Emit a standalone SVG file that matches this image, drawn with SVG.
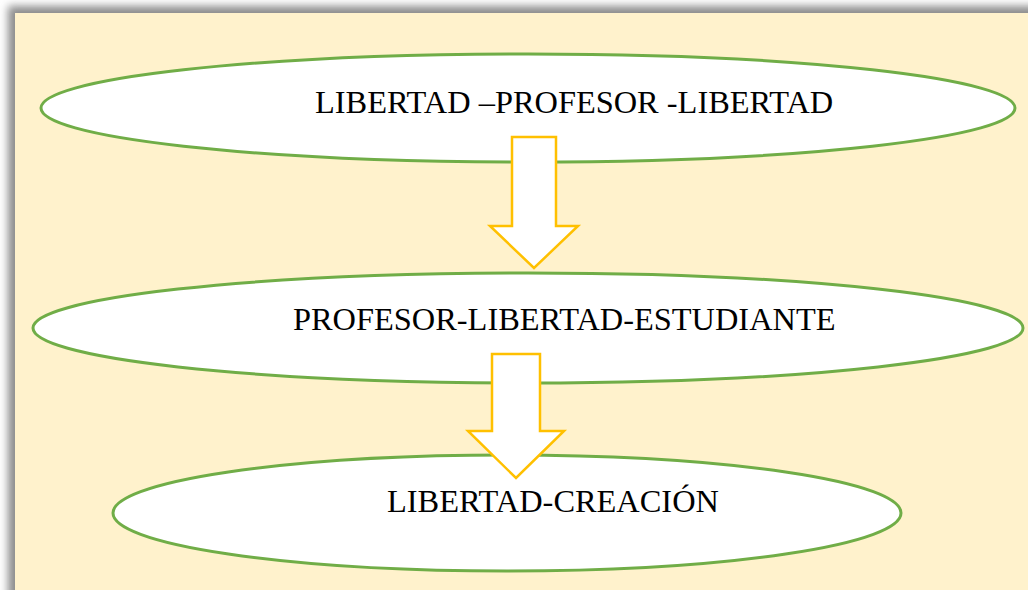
<svg xmlns="http://www.w3.org/2000/svg" width="1028" height="590" viewBox="0 0 1028 590">
  <defs>
    <filter id="sh" x="-5%" y="-5%" width="110%" height="110%">
      <feGaussianBlur stdDeviation="4"/>
    </filter>
  </defs>
  <style>
    .node ellipse { fill: #FFFFFF; stroke: #70AD47; stroke-width: 3; }
    .node text { font-family: "Liberation Serif", "Times New Roman", serif; font-size: 32.4px; fill: #000000; }
    .arrow { fill: #FFFFFF; stroke: #FFC000; stroke-width: 2.5; stroke-linejoin: miter; }
  </style>
  <rect x="0" y="0" width="1028" height="590" fill="#FFFFFF"/>
  <rect x="8" y="6" width="1040" height="600" fill="#8C8C8C" filter="url(#sh)"/>
  <rect x="15" y="13" width="1013" height="577" fill="#FFF2CC"/>

  <g id="node1" class="node">
    <ellipse cx="528" cy="108" rx="487" ry="54"/>
    <text x="315" y="113">LIBERTAD –PROFESOR -LIBERTAD</text>
  </g>
  <g id="node2" class="node">
    <ellipse cx="528" cy="328" rx="495" ry="55"/>
    <text x="293" y="330">PROFESOR-LIBERTAD-ESTUDIANTE</text>
  </g>
  <g id="node3" class="node">
    <ellipse cx="507" cy="513" rx="394" ry="58"/>
    <text x="387" y="512">LIBERTAD-CREACIÓN</text>
  </g>

  <g id="connectors">
    <polygon class="arrow" points="512,137 556,137 556,226 578,226 534,268 490,226 512,226"/>
    <polygon class="arrow" points="492,354 540,354 540,431 564,431 516,478 468,431 492,431"/>
  </g>
</svg>
